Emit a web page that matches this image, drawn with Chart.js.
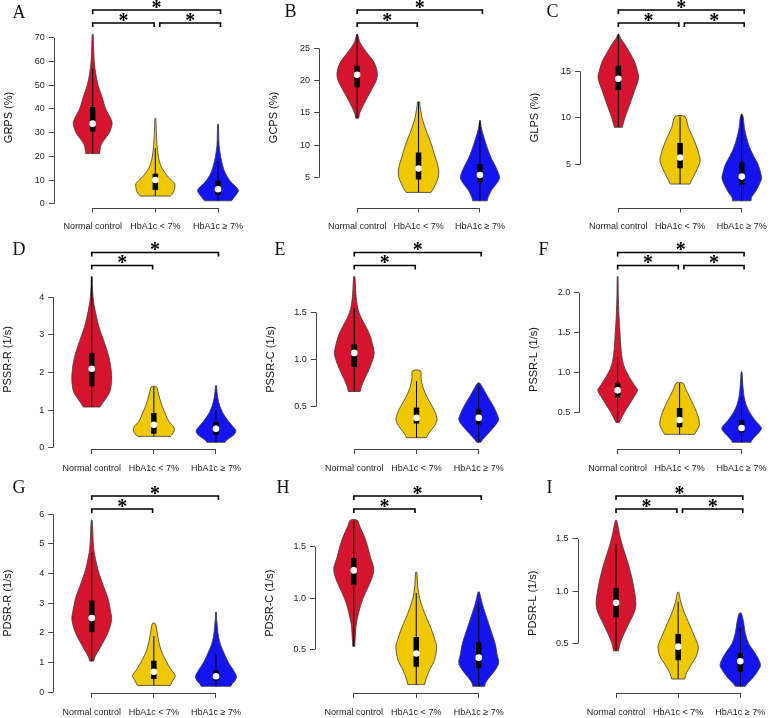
<!DOCTYPE html>
<html lang="en">
<head>
<meta charset="UTF-8">
<title>Strain and strain rate by HbA1c group</title>
<script src="https://cdn.jsdelivr.net/npm/chart.js"></script>
<style>
    body { margin: 0; background: #fff; }
    #fig { position: relative; width: 784px; height: 718px; overflow: hidden; background: #fff; }
    #fig canvas { position: absolute; }
    .letter {
        position: absolute;
        font-family: 'Liberation Serif', 'Times New Roman', serif;
        font-size: 18px;
        line-height: 18px;
        color: #111;
    }
</style>
</head>
<body>
<div id="fig"></div>
<script>
// groups / labels
const groups = ['Normal control', 'HbA1c < 7%', 'HbA1c \u2265 7%'];
const groupColors = ['#D7142D', '#F0C800', '#1414F0'];
const panelLetters = ['A', 'B', 'C', 'D', 'E', 'F', 'G', 'H', 'I'];
const yTitles = ['GRPS (%)', 'GCPS (%)', 'GLPS (%)', 'PSSR-R (1/s)', 'PSSR-C (1/s)', 'PSSR-L (1/s)',
                 'PDSR-R (1/s)', 'PDSR-C (1/s)', 'PDSR-L (1/s)'];
const yTicks = [
    [0, 10, 20, 30, 40, 50, 60, 70],
    [5, 10, 15, 20, 25],
    [5, 10, 15],
    [0, 1, 2, 3, 4],
    [0.5, 1.0, 1.5],
    [0.5, 1.0, 1.5, 2.0],
    [0, 1, 2, 3, 4, 5, 6],
    [0.5, 1.0, 1.5],
    [0.5, 1.0, 1.5]
];
const yDecimals = [0, 0, 0, 0, 1, 1, 0, 1, 1];
// significant pairs (group numbers), each marked with *
const significance = [
    [[1, 2], [2, 3], [1, 3]],
    [[1, 2], [1, 3]],
    [[1, 2], [2, 3], [1, 3]],
    [[1, 2], [1, 3]],
    [[1, 2], [1, 3]],
    [[1, 2], [2, 3], [1, 3]],
    [[1, 2], [1, 3]],
    [[1, 2], [1, 3]],
    [[1, 2], [2, 3], [1, 3]]
];

// violin outlines: levels (y) and relative density, per group; stats = [low whisker, q1, median, q3, high whisker]
const grpsLevels = [
    [21.2, 23, 25, 27, 30, 33.8, 36, 40, 45, 50, 55, 60, 65, 71.5],
    [3.3, 4.5, 6, 8.5, 10, 12, 15, 18, 20, 25, 30, 36],
    [1.3, 2.5, 4, 5.5, 7, 9, 12, 15, 20, 25, 33.5]
];
const grpsDensity = [
    [0.35, 0.37, 0.43, 0.58, 0.83, 0.97, 0.9, 0.65, 0.47, 0.27, 0.15, 0.08, 0.05, 0.02],
    [0.75, 0.87, 0.95, 0.97, 0.8, 0.58, 0.33, 0.2, 0.15, 0.08, 0.05, 0.02],
    [0.67, 0.78, 0.92, 1.02, 0.92, 0.67, 0.42, 0.27, 0.13, 0.05, 0.02]
];
const grpsStats = [[21.2, 30.5, 33.8, 40.8, 57], [3.3, 5.9, 10.1, 12.7, 23.5], [1.3, 3.9, 6.2, 9.9, 18]];

const gcpsLevels = [
    [14.2, 15, 16, 17, 18, 19, 20, 21, 22, 23, 24, 25, 26, 27.2],
    [2.7, 3, 4, 5, 6, 7, 8, 10, 12, 14, 16, 16.7],
    [1.4, 2, 3, 4, 5, 6.5, 8, 10, 12, 13, 13.8]
];
const gcpsDensity = [
    [0.08, 0.13, 0.28, 0.45, 0.63, 0.8, 0.97, 1.03, 0.97, 0.83, 0.58, 0.33, 0.13, 0.02],
    [0.63, 0.7, 0.87, 1.0, 1.03, 0.97, 0.87, 0.67, 0.42, 0.2, 0.08, 0.05],
    [0.37, 0.42, 0.58, 0.83, 1.0, 0.83, 0.58, 0.33, 0.13, 0.05, 0.02]
];
const gcpsStats = [[14.2, 19, 20.9, 22.3, 27.2], [2.7, 4.7, 6.4, 8.9, 16.7], [1.4, 4.2, 5.4, 7.1, 13.8]];

const glpsLevels = [
    [9, 10, 11, 12, 13, 14, 14.5, 15, 16, 17, 18, 18.5, 19],
    [2.9, 3.3, 4, 5, 5.5, 6, 7, 8, 9, 10.15],
    [1.1, 1.5, 2, 3, 3.5, 4, 5, 6, 7, 8, 9, 10, 10.4]
];
const glpsDensity = [
    [0.2, 0.33, 0.5, 0.67, 0.83, 1.0, 1.03, 0.97, 0.83, 0.58, 0.3, 0.13, 0.02],
    [0.5, 0.58, 0.75, 0.97, 1.02, 0.97, 0.83, 0.63, 0.42, 0.25],
    [0.47, 0.5, 0.67, 0.92, 1.0, 0.97, 0.83, 0.58, 0.37, 0.23, 0.13, 0.08, 0.02]
];
const glpsStats = [[9, 13, 14.2, 15.6, 19], [2.9, 4.6, 5.75, 7.3, 10.15], [1.1, 2.8, 3.7, 5.3, 10.4]];

const pssrRLevels = [
    [1.08, 1.15, 1.3, 1.5, 1.8, 2.1, 2.4, 2.7, 3.0, 3.2, 3.5, 3.8, 4.0, 4.3, 4.55],
    [0.3, 0.35, 0.45, 0.55, 0.7, 0.9, 1.1, 1.3, 1.5, 1.62],
    [0.14, 0.18, 0.25, 0.35, 0.45, 0.55, 0.7, 0.9, 1.1, 1.3, 1.5, 1.65]
];
const pssrRDensity = [
    [0.42, 0.5, 0.7, 0.92, 1.0, 0.97, 0.87, 0.7, 0.5, 0.37, 0.23, 0.12, 0.07, 0.03, 0.02],
    [0.83, 0.92, 1.03, 1.0, 0.75, 0.58, 0.42, 0.3, 0.2, 0.13],
    [0.47, 0.5, 0.67, 0.92, 1.0, 0.87, 0.63, 0.37, 0.2, 0.1, 0.05, 0.02]
];
const pssrRStats = [[1.08, 1.63, 2.1, 2.52, 4.55], [0.3, 0.37, 0.61, 0.92, 1.62], [0.14, 0.34, 0.5, 0.68, 1.0]];

const pssrCLevels = [
    [0.66, 0.72, 0.8, 0.9, 1.0, 1.07, 1.15, 1.25, 1.35, 1.45, 1.55, 1.7, 1.88],
    [0.17, 0.22, 0.3, 0.36, 0.42, 0.5, 0.6, 0.7, 0.8, 0.88],
    [0.12, 0.15, 0.22, 0.3, 0.36, 0.42, 0.5, 0.6, 0.7, 0.75]
];
const pssrCDensity = [
    [0.3, 0.37, 0.53, 0.75, 0.93, 1.0, 0.93, 0.8, 0.58, 0.33, 0.17, 0.08, 0.03],
    [0.5, 0.63, 0.92, 1.03, 0.97, 0.8, 0.53, 0.33, 0.23, 0.2],
    [0.1, 0.2, 0.5, 0.83, 1.0, 0.92, 0.75, 0.47, 0.2, 0.05]
];
const pssrCStats = [[0.66, 0.92, 1.07, 1.16, 1.55], [0.17, 0.32, 0.38, 0.49, 0.77], [0.12, 0.31, 0.38, 0.47, 0.72]];

const pssrLLevels = [
    [0.38, 0.42, 0.5, 0.6, 0.7, 0.78, 0.85, 0.95, 1.05, 1.15, 1.3, 1.5, 1.7, 2.0, 2.2],
    [0.23, 0.25, 0.3, 0.35, 0.42, 0.5, 0.6, 0.7, 0.8, 0.87],
    [0.13, 0.15, 0.2, 0.25, 0.31, 0.4, 0.5, 0.6, 0.7, 0.8, 0.9, 1.01]
];
const pssrLDensity = [
    [0.08, 0.17, 0.33, 0.58, 0.83, 1.0, 0.83, 0.58, 0.37, 0.25, 0.17, 0.12, 0.07, 0.03, 0.02],
    [0.75, 0.8, 0.92, 1.0, 0.97, 0.87, 0.7, 0.5, 0.3, 0.17],
    [0.47, 0.5, 0.67, 0.87, 1.0, 0.7, 0.42, 0.23, 0.13, 0.08, 0.05, 0.02]
];
const pssrLStats = [[0.38, 0.69, 0.78, 0.87, 1.2], [0.23, 0.32, 0.41, 0.56, 0.87], [0.13, 0.25, 0.31, 0.41, 0.7]];

const pdsrRLevels = [
    [1.05, 1.2, 1.5, 1.8, 2.1, 2.46, 2.8, 3.2, 3.6, 4.0, 4.3, 4.7, 5.0, 5.5, 5.8],
    [0.23, 0.35, 0.45, 0.56, 0.8, 1.1, 1.4, 1.7, 2.0, 2.32],
    [0.2, 0.3, 0.4, 0.54, 0.75, 1.0, 1.3, 1.6, 1.9, 2.2, 2.5, 2.7]
];
const pdsrRDensity = [
    [0.1, 0.17, 0.42, 0.67, 0.87, 1.0, 0.93, 0.8, 0.58, 0.37, 0.25, 0.13, 0.08, 0.05, 0.02],
    [0.83, 0.92, 1.0, 1.08, 0.83, 0.58, 0.37, 0.25, 0.17, 0.07],
    [0.75, 0.83, 0.97, 1.03, 0.87, 0.63, 0.42, 0.23, 0.12, 0.07, 0.03, 0.02]
];
const pdsrRStats = [[1.05, 2.02, 2.5, 3.09, 4.7], [0.23, 0.45, 0.69, 1.06, 1.9], [0.2, 0.39, 0.54, 0.73, 1.3]];

const pdsrCLevels = [
    [0.53, 0.6, 0.75, 0.9, 1.0, 1.1, 1.2, 1.29, 1.4, 1.5, 1.6, 1.7, 1.76],
    [0.157, 0.2, 0.3, 0.4, 0.53, 0.6, 0.7, 0.8, 0.9, 1.0, 1.1, 1.25],
    [0.14, 0.17, 0.22, 0.3, 0.37, 0.45, 0.55, 0.65, 0.75, 0.85, 0.95, 1.06]
];
const pdsrCDensity = [
    [0.05, 0.07, 0.13, 0.3, 0.47, 0.7, 0.92, 1.0, 0.83, 0.7, 0.53, 0.3, 0.17],
    [0.42, 0.47, 0.67, 0.92, 1.02, 0.92, 0.75, 0.53, 0.33, 0.17, 0.08, 0.03],
    [0.3, 0.33, 0.5, 0.83, 1.0, 0.92, 0.83, 0.67, 0.5, 0.33, 0.17, 0.03]
];
const pdsrCStats = [[0.53, 1.13, 1.27, 1.39, 1.76], [0.157, 0.33, 0.46, 0.62, 1.05], [0.14, 0.32, 0.42, 0.57, 0.95]];

const pdsrLLevels = [
    [0.43, 0.5, 0.6, 0.7, 0.8, 0.87, 0.95, 1.1, 1.25, 1.35, 1.45, 1.55, 1.68],
    [0.16, 0.22, 0.3, 0.38, 0.46, 0.5, 0.6, 0.7, 0.8, 0.9, 0.99],
    [0.09, 0.12, 0.18, 0.25, 0.29, 0.35, 0.42, 0.5, 0.6, 0.7, 0.79]
];
const pdsrLDensity = [
    [0.13, 0.2, 0.42, 0.67, 0.92, 1.0, 0.97, 0.83, 0.63, 0.47, 0.3, 0.17, 0.03],
    [0.33, 0.42, 0.67, 0.92, 1.02, 0.97, 0.75, 0.53, 0.3, 0.13, 0.03],
    [0.25, 0.37, 0.67, 0.92, 1.02, 0.92, 0.7, 0.42, 0.25, 0.17, 0.05]
];
const pdsrLStats = [[0.43, 0.75, 0.89, 1.03, 1.45], [0.16, 0.34, 0.47, 0.59, 0.9], [0.09, 0.23, 0.33, 0.41, 0.65]];

const allLevels = [grpsLevels, gcpsLevels, glpsLevels, pssrRLevels, pssrCLevels, pssrLLevels, pdsrRLevels, pdsrCLevels, pdsrLLevels];
const allDensity = [grpsDensity, gcpsDensity, glpsDensity, pssrRDensity, pssrCDensity, pssrLDensity, pdsrRDensity, pdsrCDensity, pdsrLDensity];
const allStats = [grpsStats, gcpsStats, glpsStats, pssrRStats, pssrCStats, pssrLStats, pdsrRStats, pdsrCStats, pdsrLStats];

// page layout of each panel (canvas box and plot area, page pixels)
const frames = [
    { cx: 0,   cy: 0,   cw: 262, ch: 238, left: 53.8,  right: 256.9, top: 27.5,  bottom: 207.5, lx: 13,  ly: 6 },
    { cx: 262, cy: 0,   cw: 260, ch: 238, left: 319.1, right: 520.6, top: 27.5,  bottom: 207.5, lx: 285, ly: 5 },
    { cx: 522, cy: 0,   cw: 262, ch: 238, left: 580.1, right: 781.6, top: 27.5,  bottom: 207.5, lx: 547, ly: 5 },
    { cx: 0,   cy: 238, cw: 262, ch: 240, left: 53.2,  right: 254.5, top: 270,   bottom: 449,   lx: 13,  ly: 243 },
    { cx: 262, cy: 238, cw: 260, ch: 240, left: 315.7, right: 517.3, top: 270,   bottom: 449,   lx: 275, ly: 243 },
    { cx: 522, cy: 238, cw: 262, ch: 240, left: 579.2, right: 780.5, top: 270,   bottom: 449,   lx: 539, ly: 243 },
    { cx: 0,   cy: 478, cw: 262, ch: 240, left: 53.2,  right: 254.5, top: 513.5, bottom: 693,   lx: 13,  ly: 481 },
    { cx: 262, cy: 478, cw: 260, ch: 240, left: 315,   right: 517.5, top: 513.5, bottom: 693,   lx: 277, ly: 481 },
    { cx: 522, cy: 478, cw: 262, ch: 240, left: 577.5, right: 778.8, top: 513.5, bottom: 693,   lx: 547, ly: 481 }
];

const HALF_WIDTH = 0.32;   // x units of a violin at density 1
const fig = document.getElementById('fig');

function violinPoints(c, lv, dn) {
    const pts = [{ x: c + dn[0] * HALF_WIDTH, y: lv[0] }];
    for (let i = 0; i < lv.length; i++) pts.push({ x: c + dn[i] * HALF_WIDTH, y: lv[i] });
    for (let i = lv.length - 1; i >= 0; i--) pts.push({ x: c - dn[i] * HALF_WIDTH, y: lv[i] });
    pts.push({ x: c - dn[0] * HALF_WIDTH, y: lv[0] });
    pts.push({ x: c + dn[0] * HALF_WIDTH, y: lv[0] });
    return pts;
}

// axis lines only span first to last tick, like base R
const axisLines = {
    id: 'axisLines',
    afterDraw(chart) {
        const { ctx, chartArea, scales: { x, y } } = chart;
        const t = y.ticks;
        ctx.save();
        ctx.strokeStyle = '#444';
        ctx.lineWidth = 1;
        ctx.beginPath();
        const ax = Math.round(chartArea.left) + 0.5;
        ctx.moveTo(ax, y.getPixelForValue(t[0].value));
        ctx.lineTo(ax, y.getPixelForValue(t[t.length - 1].value));
        const ay = Math.round(chartArea.bottom) + 0.5;
        ctx.moveTo(x.getPixelForValue(1), ay);
        ctx.lineTo(x.getPixelForValue(3), ay);
        ctx.stroke();
        ctx.restore();
    }
};

function bracketPlugin(pairs) {
    return {
        id: 'brackets',
        afterDraw(chart) {
            const { ctx, scales: { x, y } } = chart;
            ctx.save();
            ctx.strokeStyle = '#000';
            ctx.fillStyle = '#000';
            ctx.lineWidth = 1.6;
            ctx.font = 'bold 20px "Liberation Serif"';
            ctx.textAlign = 'center';
            ctx.textBaseline = 'alphabetic';
            pairs.forEach(([a, b]) => {
                const by = y.top - (b - a > 1 ? 17.5 : 4.5);
                const x1 = x.getPixelForValue(a === 2 ? a + 0.07 : a);
                const x2 = x.getPixelForValue(b === 2 ? b - 0.02 : b + 0.04);
                ctx.beginPath();
                ctx.moveTo(x1, by + 4);
                ctx.lineTo(x1, by);
                ctx.lineTo(x2, by);
                ctx.lineTo(x2, by + 4);
                ctx.stroke();
                ctx.fillText('*', (x1 + x2) / 2, by + 3.5);
            });
            ctx.restore();
        }
    };
}

frames.forEach((f, p) => {
    const lv = allLevels[p], dn = allDensity[p], st = allStats[p];
    const flat = lv.flat();
    const dmin = Math.min(...flat), dmax = Math.max(...flat);
    const ext = (dmax - dmin) * 0.04;

    const datasets = [];
    groups.forEach((g, i) => {
        const c = i + 1;
        datasets.push({
            label: g,
            data: violinPoints(c, lv[i], dn[i]),
            showLine: true,
            fill: 'shape',
            tension: 0.3,
            backgroundColor: groupColors[i],
            borderColor: '#3a3a3a',
            borderWidth: 0.8,
            pointRadius: 0,
            order: 4
        });
        datasets.push({
            data: [{ x: c, y: st[i][0] }, { x: c, y: st[i][4] }],
            showLine: true, fill: false,
            borderColor: '#000', borderWidth: 1, pointRadius: 0, order: 3
        });
        datasets.push({
            data: [{ x: c, y: st[i][1] }, { x: c, y: st[i][3] }],
            showLine: true, fill: false,
            borderColor: '#000', borderWidth: 5.5, borderCapStyle: 'butt', pointRadius: 0, order: 2
        });
    });
    datasets.push({
        data: st.map((s, i) => ({ x: i + 1, y: s[2] })),
        showLine: false,
        pointRadius: 3.3,
        pointBackgroundColor: '#fff',
        pointBorderWidth: 0,
        order: 1
    });

    const cv = document.createElement('canvas');
    cv.width = f.cw;
    cv.height = f.ch;
    cv.style.left = f.cx + 'px';
    cv.style.top = f.cy + 'px';
    fig.appendChild(cv);

    const titleSize = 11;
    const titlePad = Math.max(0, (f.left - f.cx) - 45 - titleSize * 1.2 / 2);

    new Chart(cv, {
        type: 'scatter',
        data: { datasets },
        options: {
            responsive: false,
            animation: false,
            devicePixelRatio: 1,
            events: [],
            layout: {
                padding: { left: 0, top: f.top - f.cy, right: f.cx + f.cw - f.right, bottom: 0 }
            },
            plugins: { legend: { display: false }, tooltip: { enabled: false } },
            scales: {
                x: {
                    type: 'linear',
                    min: 0.38,
                    max: 3.62,
                    afterBuildTicks: s => { s.ticks = [1, 2, 3].map(v => ({ value: v })); },
                    afterFit: s => { s.height = f.cy + f.ch - f.bottom; },
                    border: { display: false },
                    grid: { drawOnChartArea: false, drawTicks: true, tickLength: 5, color: '#444' },
                    ticks: {
                        autoSkip: false,
                        maxRotation: 0,
                        padding: 9,
                        color: '#222',
                        font: { family: 'Liberation Sans', size: 9 },
                        callback: v => groups[v - 1]
                    }
                },
                y: {
                    type: 'linear',
                    min: dmin - ext,
                    max: dmax + ext,
                    afterBuildTicks: s => { s.ticks = yTicks[p].map(v => ({ value: v })); },
                    afterFit: s => { s.width = f.left - f.cx; },
                    border: { display: false },
                    grid: { drawOnChartArea: false, drawTicks: true, tickLength: 5, color: '#444' },
                    ticks: {
                        autoSkip: false,
                        padding: 4,
                        color: '#222',
                        font: { family: 'Liberation Sans', size: 9 },
                        callback: v => Number(v).toFixed(yDecimals[p])
                    },
                    title: {
                        display: true,
                        text: yTitles[p],
                        color: '#111',
                        padding: { top: titlePad, bottom: 0 },
                        font: { family: 'Liberation Sans', size: titleSize }
                    }
                }
            }
        },
        plugins: [axisLines, bracketPlugin(significance[p])]
    });

    const letter = document.createElement('div');
    letter.className = 'letter';
    letter.textContent = panelLetters[p];
    letter.style.left = (f.lx - 0.5) + 'px';
    letter.style.top = (f.ly - 3.2) + 'px';
    fig.appendChild(letter);
});
</script>
</body>
</html>
